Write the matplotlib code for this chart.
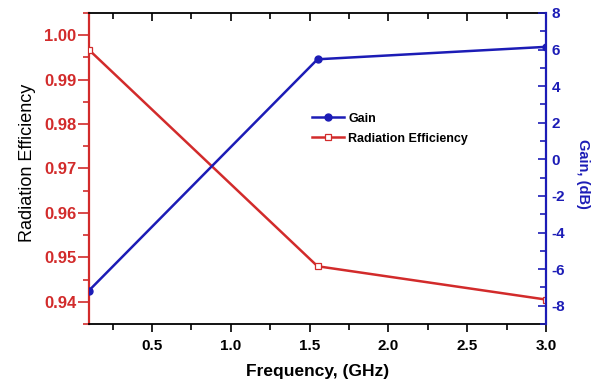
import matplotlib
matplotlib.use("Agg")
import matplotlib.pyplot as plt
from matplotlib.ticker import MultipleLocator

plt.rcParams['font.family'] = ['Liberation Sans', 'DejaVu Sans']

freq = [0.1, 1.55, 3.0]
efficiency = [0.9967, 0.9480, 0.9405]
gain = [-7.17, 5.47, 6.15]

RED = '#d22b2b'
BLUE = '#1c1cb6'

fig = plt.figure(figsize=(5.99, 3.83), dpi=100)
ax = fig.add_axes([89/599, 1-324/383, (546-89)/599, (324-13)/383])
ax2 = ax.twinx()

l1, = ax2.plot(freq, gain, color=BLUE, lw=1.8, marker='o', ms=5,
               mfc=BLUE, mec=BLUE, label='Gain', zorder=3)
l2, = ax.plot(freq, efficiency, color=RED, lw=1.8, marker='s', ms=5,
              mfc='white', mec=RED, mew=0.9, label='Radiation Efficiency', zorder=3)

ax.set_xlim(0.1, 3.0)
ax.set_ylim(0.935, 1.005)
ax2.set_ylim(-9, 8)

ax.xaxis.set_major_locator(MultipleLocator(0.5))
ax.xaxis.set_minor_locator(MultipleLocator(0.25))
ax.yaxis.set_major_locator(MultipleLocator(0.01))
ax.yaxis.set_minor_locator(MultipleLocator(0.005))
ax2.yaxis.set_major_locator(MultipleLocator(2))
ax2.yaxis.set_minor_locator(MultipleLocator(1))

ax.xaxis.set_major_formatter(matplotlib.ticker.FuncFormatter(lambda v, p: '' if v < 0.3 else f'{v:.1f}'))
ax.yaxis.set_major_formatter(matplotlib.ticker.FormatStrFormatter('%.2f'))
ax2.yaxis.set_major_formatter(matplotlib.ticker.FuncFormatter(lambda v, p: f'{int(round(v))}' if v > -8.5 else ''))

ax.tick_params(axis='x', which='both', direction='out', top=False, bottom=True, colors='black', width=1.2)
ax.tick_params(axis='x', which='major', length=6, labelsize=11, pad=5)
ax.tick_params(axis='x', which='minor', length=4)
ax.tick_params(axis='y', which='both', direction='out', colors=RED, width=1.2, labelsize=12, pad=1)
ax.tick_params(axis='y', which='major', length=8)
ax.tick_params(axis='y', which='minor', length=4)
ax2.tick_params(axis='y', which='both', direction='in', colors=BLUE, width=1.2, labelsize=11, pad=4)
ax2.tick_params(axis='y', which='major', length=6)
ax2.tick_params(axis='y', which='minor', length=4)

# top ticks (inward)
secx = ax.secondary_xaxis('top')
secx.xaxis.set_major_locator(MultipleLocator(0.5))
secx.xaxis.set_minor_locator(MultipleLocator(0.25))
secx.tick_params(axis='x', which='both', direction='in', labeltop=False, width=1.2)
secx.tick_params(axis='x', which='major', length=6)
secx.tick_params(axis='x', which='minor', length=4)
secx.spines['top'].set_visible(False)

for lab in ax.get_xticklabels() + ax.get_yticklabels() + ax2.get_yticklabels():
    lab.set_fontweight('bold')

ax2.spines['left'].set_visible(False)
ax.spines['left'].set_color(RED)
ax.spines['left'].set_linewidth(1.6)
ax2.spines['right'].set_color(BLUE)
ax2.spines['right'].set_linewidth(1.6)
ax.spines['right'].set_visible(False)
ax2.spines['top'].set_visible(False)
ax2.spines['bottom'].set_visible(False)
ax.spines['top'].set_linewidth(1.3)
ax.spines['bottom'].set_linewidth(1.3)

ax.set_xlabel('Frequency, (GHz)', fontsize=12.5, fontweight='bold', labelpad=8)
ax.set_ylabel('Radiation Efficiency', fontsize=13, color='black', labelpad=8)
ax.yaxis.set_label_coords(-0.116, 0.517)
ax2.set_ylabel('Gain, (dB)', fontsize=10.5, fontweight='bold', color=BLUE, rotation=270, labelpad=14)
ax2.yaxis.set_label_coords(1.097, 0.482)

leg = ax2.legend(handles=[l1, l2], loc='center left', bbox_to_anchor=(0.463, 0.628),
                 frameon=False, prop={'weight': 'bold', 'size': 9},
                 handlelength=2.6, handletextpad=0.3, labelspacing=0.65)

fig.savefig('out.png', dpi=100)
